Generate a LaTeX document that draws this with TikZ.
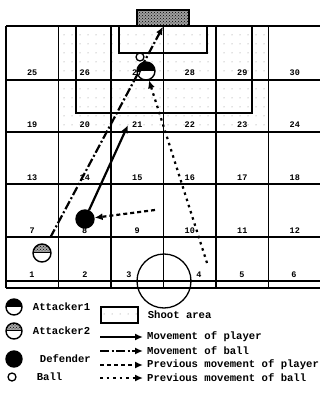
\documentclass[tikz,border=0pt]{standalone}
\usepackage{fontspec}
\setmonofont{Liberation Mono}
\usetikzlibrary{arrows.meta,patterns,positioning}

\pgfdeclarepatternformonly{sparsedots}{\pgfqpoint{-1pt}{-1pt}}{\pgfqpoint{1pt}{1pt}}{\pgfqpoint{8pt}{9pt}}%
  {\pgfpathcircle{\pgfpointorigin}{0.5pt}\pgfusepath{fill}}

\begin{document}
\begin{tikzpicture}[x=1pt,y=-1pt,
    field/.style={line width=1.3pt},
    cellno/.style={font=\ttfamily\bfseries\fontsize{8.5}{9}\selectfont,
                   inner sep=0pt,anchor=base},
    legtext/.style={font=\ttfamily\bfseries\fontsize{10.6}{12}\selectfont,
                    inner sep=0pt,anchor=west},
    player/.style={draw,circle,line width=1.4pt,minimum size=18pt,inner sep=0pt},
    attackerA/.style={player,path picture={
        \fill (path picture bounding box.west) rectangle
              (path picture bounding box.north east);}},
    attackerB/.style={player,path picture={
        \fill[gray!70] ([yshift=1pt]path picture bounding box.west)
              rectangle (path picture bounding box.north east);
        \fill[pattern=crosshatch dots] ([yshift=1pt]path picture bounding box.west)
              rectangle (path picture bounding box.north east);
        \draw[line width=1pt] ([yshift=1pt]path picture bounding box.west) --
              ([yshift=1pt]path picture bounding box.east);}},
    defender/.style={player,fill=black},
    ballmark/.style={draw,circle,fill=white,line width=1.3pt,minimum size=8pt,
                     inner sep=0pt},
    mvplayer/.style={-{Latex[length=8pt,width=7pt]},line width=2.2pt},
    mvball/.style={mvplayer,dash pattern=on 9pt off 2.5pt on 2pt off 2.5pt},
    prevplayer/.style={mvplayer,dash pattern=on 4pt off 3pt},
    prevball/.style={mvplayer,dash pattern=on 2.5pt off 4pt},
]
\useasboundingbox (0,0) rectangle (320,395);

% ---- Shoot area ----------------------------------------------------------
\fill[pattern=sparsedots,pattern color=gray] (58.5,26) rectangle (268.5,132);

% ---- Field grid ----------------------------------------------------------
\foreach \y in {26,80,132,184,237,281,288}
    \draw[field] (6,\y) -- (321,\y);
\foreach \x in {6,58.5,...,321}
    \draw[field] (\x,26) -- (\x,288);
\draw[field] (76,26) rectangle (252,113);
\draw[field] (119,26) rectangle (207,53);
\draw[field] (164,281) circle[radius=27];
\node[draw,field,fill=gray!75,minimum width=52pt,
      minimum height=16pt,inner sep=0pt] (goal) at (163,18) {};
\fill[pattern=crosshatch dots] (goal.south west) rectangle (goal.north east);

% ---- Cell numbers --------------------------------------------------------
\foreach \r/\yb in {2/237,3/184,4/132,5/80}
  \foreach \c in {1,...,6}{
    \pgfmathtruncatemacro\n{(\r-1)*6+\c}
    \node[cellno] at (6+52.5*\c-26.25,\yb-4) {\n};
  }
\foreach \n/\x in {1/32,2/85,3/129,4/199,5/242,6/294}
    \node[cellno] at (\x,277) {\n};

% ---- Players -------------------------------------------------------------
\node[attackerA] (att1) at (146,71) {};
\node[ballmark] (ball) at (140,57) {};
\node[attackerB] (att2) at (42,253) {};
\node[defender] (def) at (85,219) {};

% ---- Movements -----------------------------------------------------------
\coordinate (defto) at (128,125);
\coordinate (defprev) at (155,210);
\coordinate (ballprev) at (207,263);
\draw[mvball,shorten <=8pt] (att2) -- (goal.south);
\draw[mvplayer] (def) -- (defto);
\draw[prevplayer] (defprev) -- (def);
\draw[prevball] (ballprev) -- (att1);

% ---- Legend --------------------------------------------------------------
\node[attackerA,minimum size=16pt] (legatt1) at (14,307) {};
\node[legtext,right=10pt of legatt1] {Attacker1};
\node[attackerB,minimum size=16pt] (legatt2) at (14,331) {};
\node[legtext,right=10pt of legatt2] {Attacker2};
\node[defender,minimum size=16pt] (legdef) at (14,359) {};
\node[legtext,right=17pt of legdef] {Defender};
\node[ballmark] (legball) at (12,377) {};
\node[legtext,right=20pt of legball] {Ball};

\node[draw,field,pattern=sparsedots,pattern color=gray,minimum width=37pt,
      minimum height=16pt,inner sep=0pt] (legshoot) at (119.5,315) {};
\node[legtext,right=9pt of legshoot] {Shoot area};

\foreach \st/\y/\txt in {mvplayer/337/Movement of player,
                         mvball/351/Movement of ball,
                         prevplayer/365/Previous movement of player,
                         prevball/378/Previous movement of ball}{
    \coordinate (l\y) at (100,\y);
    \coordinate (r\y) at (143,\y);
    \draw[\st] (l\y) -- (r\y);
    \node[legtext] at (147,\y) {\txt};
}

\end{tikzpicture}
\end{document}
